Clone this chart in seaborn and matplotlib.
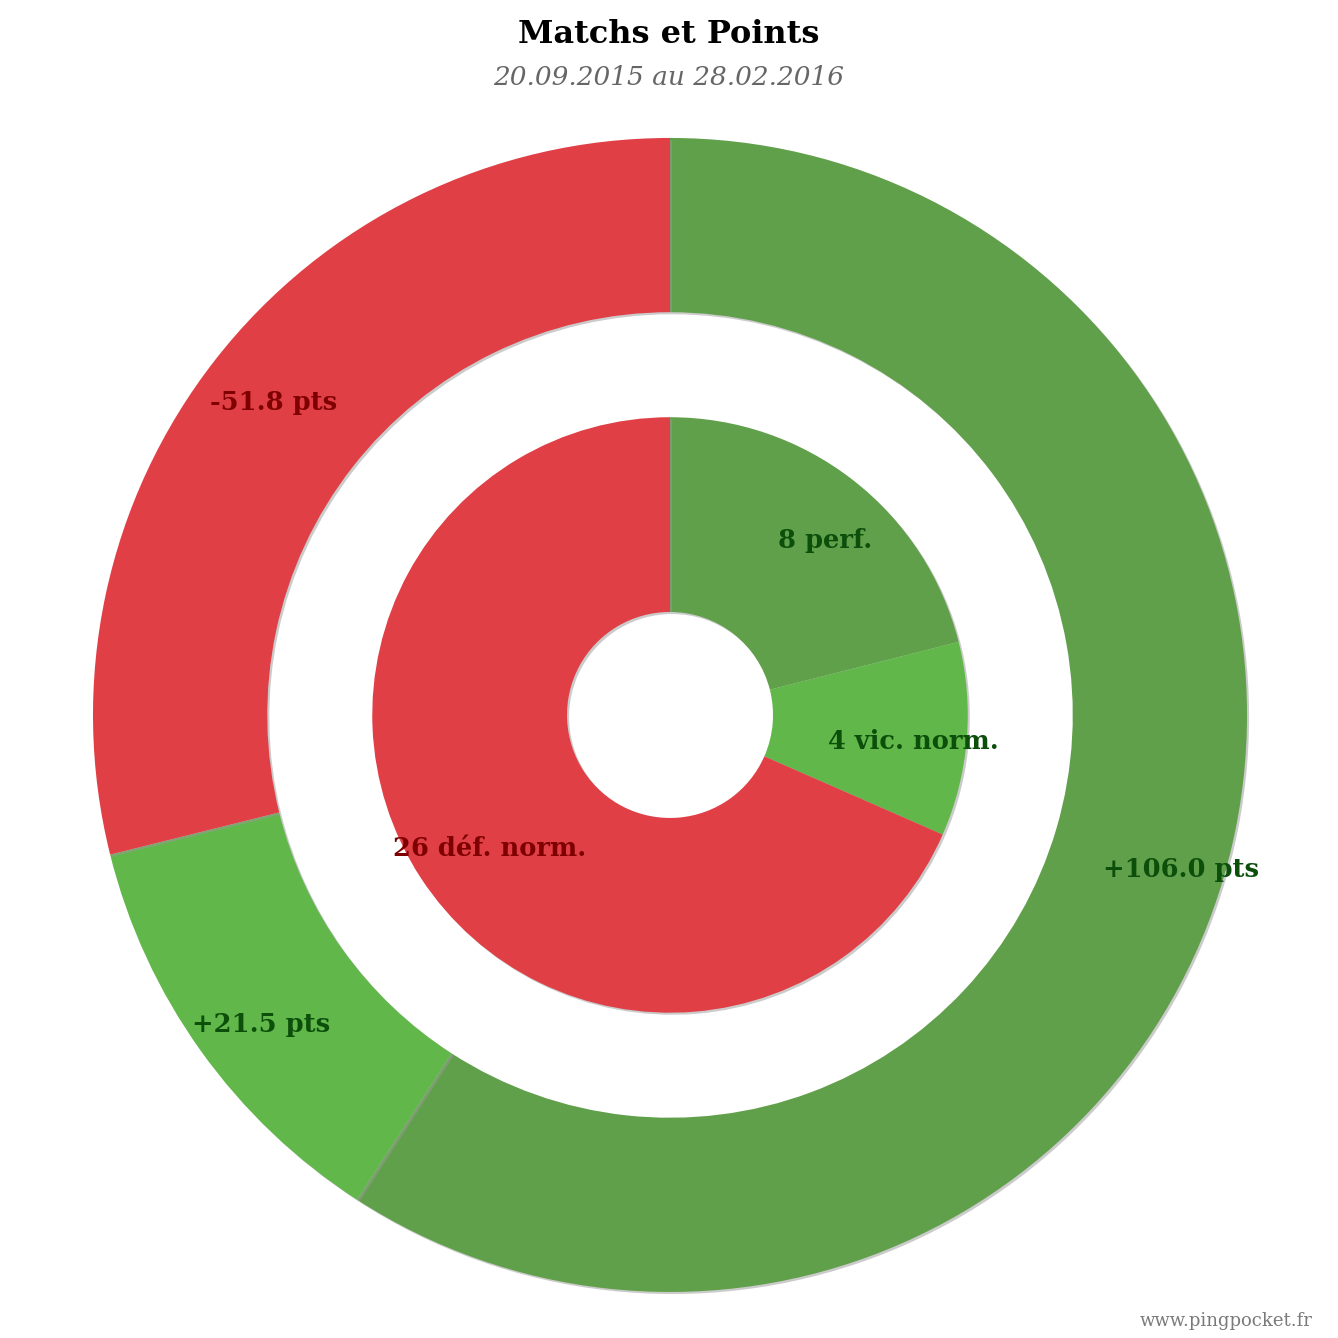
import numpy as np
import seaborn as sns
import matplotlib.pyplot as plt
import matplotlib.patheffects as pe

# Data
outer_labels = ['+106.0 pts', '+21.5 pts', '-51.8 pts']
outer_values = [106.0, 21.5, 51.8]
inner_labels = ['8 perf.', '4 vic. norm.', '26 déf. norm.']
inner_values = [8, 4, 26]

slice_colors = ['#61a04b', '#61b74a', '#e03f46']
text_colors = ['#0b4f0b', '#0b4f0b', '#7f0000']

sns.set_theme(style='white')
plt.rcParams['font.family'] = ['DejaVu Serif']

fig = plt.figure(figsize=(13.38, 13.38), dpi=100)
ax = fig.add_axes([0.0695, 0.0344, 0.8625, 0.8625])

shadow = [pe.SimplePatchShadow(offset=(1.5, -1.5), shadow_rgbFace='#999999', alpha=0.5), pe.Normal()]

# outer ring: points
wedges_out, _ = ax.pie(outer_values, radius=1.0, startangle=90, counterclock=False,
                       colors=slice_colors, wedgeprops=dict(width=1.0 - 0.698, linewidth=0))
# inner ring: matches
wedges_in, _ = ax.pie(inner_values, radius=0.516, startangle=90, counterclock=False,
                      colors=slice_colors, wedgeprops=dict(width=0.516 - 0.1785, linewidth=0))
for w in wedges_out + wedges_in:
    w.set_path_effects(shadow)

def put_labels(wedges, labels, r):
    for w, lab, c in zip(wedges, labels, text_colors):
        ang = np.deg2rad((w.theta1 + w.theta2) / 2)
        ax.annotate(lab, (r * np.cos(ang), r * np.sin(ang)), xytext=(9.5, -5.5),
                    textcoords='offset points', ha='center', va='center',
                    fontsize=18.5, fontweight='bold', color=c)

put_labels(wedges_out, outer_labels, 0.90)
put_labels(wedges_in, inner_labels, 0.40)

ax.set_xlim(-1, 1)
ax.set_ylim(-1, 1)
ax.set_aspect('equal')
ax.axis('off')

fig.text(0.5, 0.974, 'Matchs et Points', ha='center', va='center',
         fontsize=23, fontweight='bold', color='black')
fig.text(0.5, 0.942, '20.09.2015 au 28.02.2016', ha='center', va='center',
         fontsize=19, style='italic', color='#666666')
fig.text(0.981, 0.013, 'www.pingpocket.fr', ha='right', va='center',
         fontsize=13, color='#7a7a7a')

fig.savefig('out.png', dpi=100, facecolor='white')
